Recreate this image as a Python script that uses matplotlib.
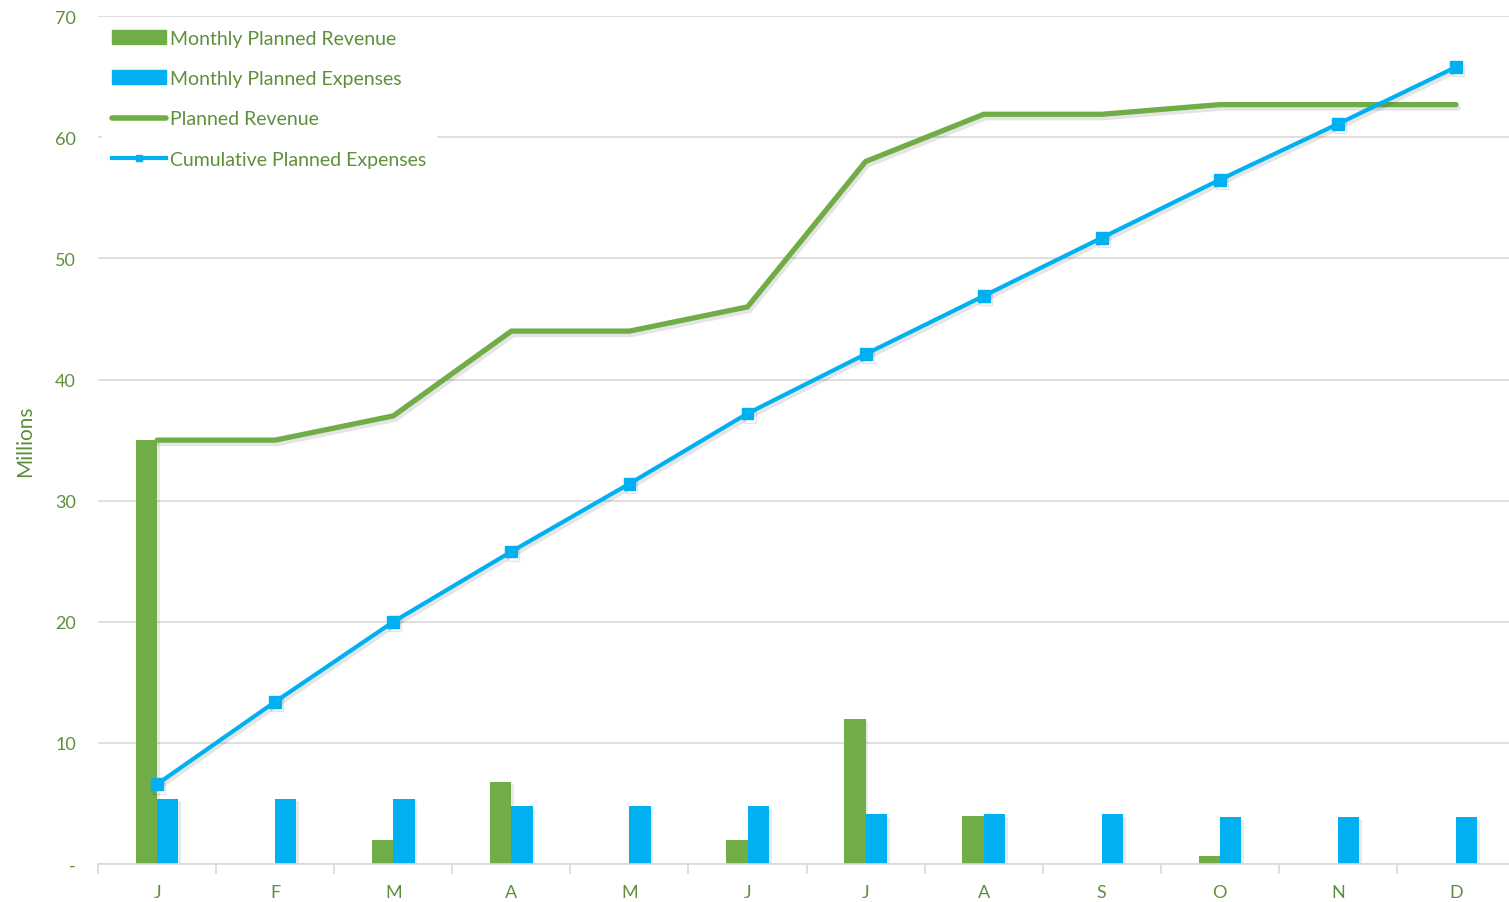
import numpy as np
import matplotlib.pyplot as plt
from matplotlib import patheffects as pe
from matplotlib.lines import Line2D
from matplotlib.patches import Patch

months = ["J", "F", "M", "A", "M", "J", "J", "A", "S", "O", "N", "D"]
monthly_revenue = [35, 0, 2, 6.8, 0, 2, 12, 4, 0, 0.7, 0, 0]
monthly_expenses = [5.4, 5.4, 5.4, 4.8, 4.8, 4.8, 4.1, 4.1, 4.1, 3.9, 3.9, 3.9]
planned_revenue = [35, 35, 37, 44, 44, 46, 58, 61.9, 61.9, 62.7, 62.7, 62.7]
cumulative_expenses = [6.6, 13.4, 20.0, 25.8, 31.4, 37.2, 42.1, 46.9, 51.7, 56.5, 61.1, 65.8]

green = "#70AD47"
blue = "#00B0F0"
text_green = "#5E8F3C"
grid_col = "#D9D9D9"

plt.rcParams['font.family'] = ['Lato', 'DejaVu Sans']

fig = plt.figure(figsize=(15.09, 9.03), dpi=100)
ax = fig.add_axes([0.065, 0.042, 0.939, 0.939])

x = np.arange(len(months))
w = 0.18
shadow = [pe.SimplePatchShadow(offset=(2, -2), alpha=0.1), pe.Normal()]
line_shadow = [pe.SimpleLineShadow(offset=(1.5, -2.5), alpha=0.1), pe.Normal()]

ax.bar(x - w / 2, monthly_revenue, width=w, color=green, zorder=2, path_effects=shadow)
ax.bar(x + w / 2, monthly_expenses, width=w, color=blue, zorder=2, path_effects=shadow)
ax.plot(x, planned_revenue, color=green, lw=3.8, solid_capstyle='round', zorder=3,
        path_effects=line_shadow)
ax.plot(x, cumulative_expenses, color=blue, lw=3, marker='s', markersize=8.5, zorder=4,
        path_effects=line_shadow)

ax.set_xlim(-0.5, 11.5)
ax.set_ylim(0, 70)
ax.set_yticks(range(0, 71, 10))
ax.set_yticklabels(["-"] + [str(v) for v in range(10, 71, 10)])
ax.yaxis.grid(True, color=grid_col, lw=1.2, zorder=0)
ax.set_axisbelow(True)
ax.tick_params(axis='y', length=0, pad=16, labelsize=13, labelcolor=text_green)

ax.set_xticks(x)
ax.set_xticklabels(months)
ax.set_xticks(np.arange(-0.5, 12, 1), minor=True)
ax.tick_params(axis='x', which='major', length=0, pad=14, labelsize=13, labelcolor=text_green)
ax.tick_params(axis='x', which='minor', length=7, width=1.2, color=grid_col)

for s in ["top", "right", "left"]:
    ax.spines[s].set_visible(False)
ax.spines["bottom"].set_color(grid_col)
ax.spines["bottom"].set_linewidth(1.2)

ax.set_ylabel("Millions", color=text_green, fontsize=15, labelpad=14)

handles = [
    Patch(color=green),
    Patch(color=blue),
    Line2D([], [], color=green, lw=4, solid_capstyle='round'),
    Line2D([], [], color=blue, lw=3, marker='s', markersize=4, markevery=[1]),
]
labels = ["Monthly Planned Revenue", "Monthly Planned Expenses", "Planned Revenue",
          "Cumulative Planned Expenses"]
leg = ax.legend(handles, labels, loc='upper left', bbox_to_anchor=(0.0, 1.0),
                frameon=True, facecolor='white', edgecolor='white', framealpha=1,
                fontsize=14, labelspacing=1.2, handlelength=2.8, handletextpad=0.2,
                borderpad=0.5, borderaxespad=0.2)
for t in leg.get_texts():
    t.set_color(text_green)
leg.set_zorder(5)

fig.savefig("out.png", dpi=100)
